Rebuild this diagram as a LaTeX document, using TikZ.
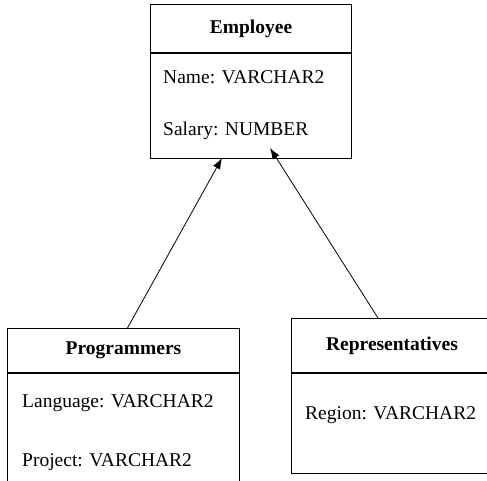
\documentclass[tikz,border=0pt]{standalone}
\usepackage{fontspec}
\setmainfont{Liberation Serif}
\usetikzlibrary{positioning,arrows.meta}

\tikzstyle{classname} = [rectangle, draw, line width=1pt, inner sep=0pt,
    font=\fontsize{19.5}{23}\selectfont\bfseries, anchor=north west]
\tikzstyle{classattr} = [rectangle, draw, line width=1pt, inner sep=0pt]
\tikzstyle{attr} = [anchor=west, inner sep=0pt, font=\fontsize{19.5}{23}\selectfont]
\tikzstyle{inherit} = [draw, line width=0.8pt, -{Latex[length=11pt,width=8pt]}]

\begin{document}
\begin{tikzpicture}[x=1pt, y=-1pt]
    \useasboundingbox (0,0) rectangle (487,480);
    \clip (0,0) rectangle (487,480);
    % Place nodes
    \node [classname, minimum width=201pt, minimum height=48pt] (employee) at (150,4) {Employee};
    \node [classattr, minimum width=201pt, minimum height=105pt, below=0pt of employee] (employeeattr) {};
    \node [attr] (name) at (163,77) {Name: VARCHAR2};
    \node [attr] (salary) at (163,131) {Salary: NUMBER};

    \node [classname, minimum width=232pt, minimum height=44pt] (programmers) at (7,328) {Programmers};
    \node [classattr, minimum width=232pt, minimum height=120pt, below=0pt of programmers] (programmersattr) {};
    \node [attr] (language) at (22,403) {Language: VARCHAR2};
    \node [attr] (project) at (22,462) {Project: VARCHAR2};

    \node [classname, minimum width=201pt, minimum height=54pt] (representatives) at (291,318) {Representatives};
    \node [classattr, minimum width=201pt, minimum height=100pt, below=0pt of representatives] (representativesattr) {};
    \node [attr] (region) at (305,415) {Region: VARCHAR2};

    % inheritance arrows
    \coordinate (A) at (222,158);
    \coordinate (B) at (270,148);
    \path [inherit] ([xshift=4pt] programmers.north) -- (A);
    \path [inherit] ([xshift=-14pt] representatives.north) -- (B);

\end{tikzpicture}
\end{document}
